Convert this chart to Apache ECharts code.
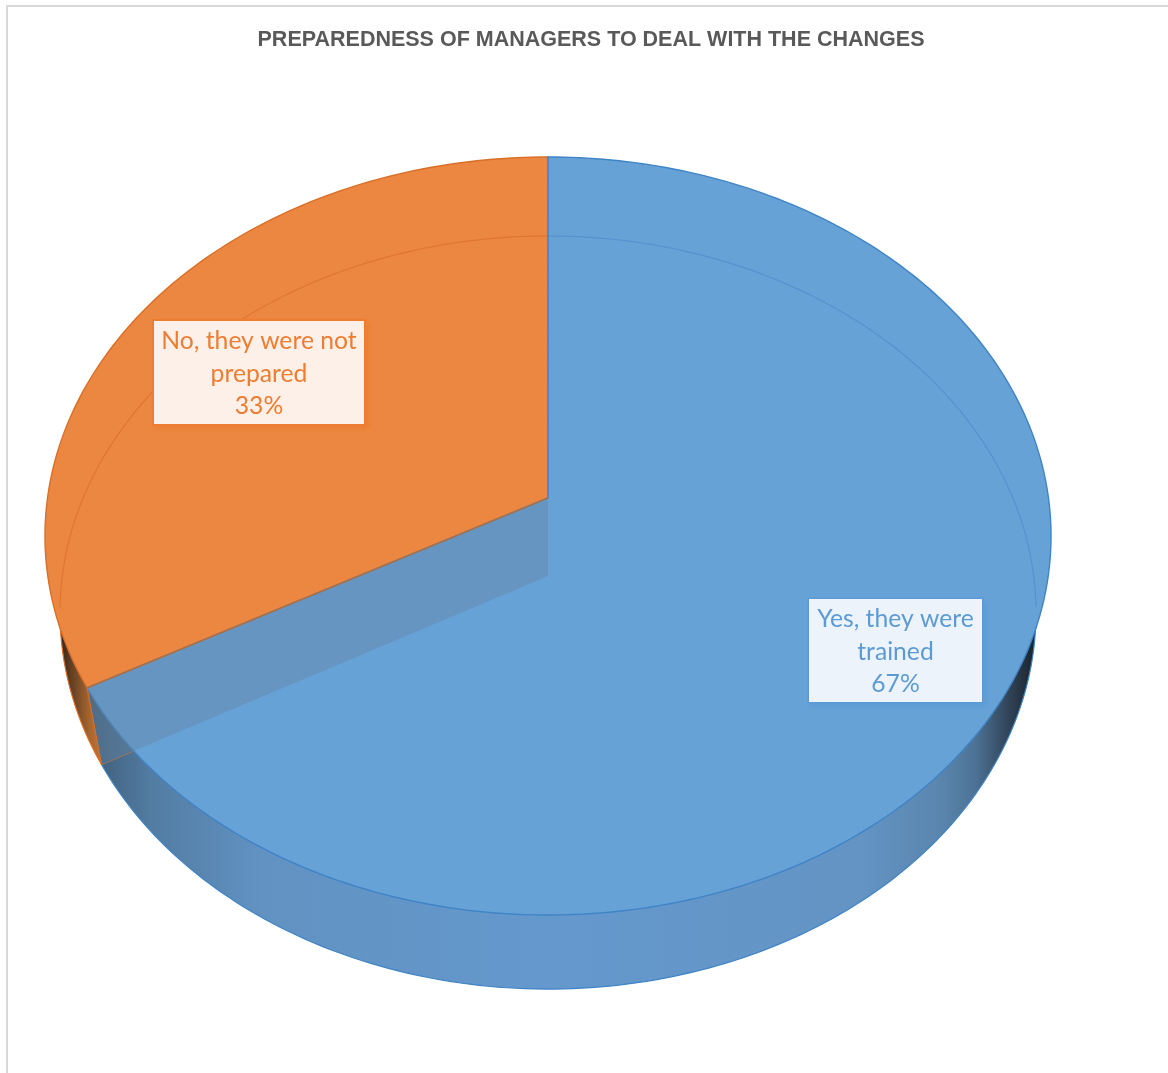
<!DOCTYPE html>
<html>
<head>
<meta charset="utf-8">
<style>html,body{margin:0;padding:0;background:#fff}#chart{width:1168px;height:1073px}</style>
<script src="https://cdn.jsdelivr.net/npm/echarts@6/dist/echarts.min.js"></script>
</head>
<body>
<div id="chart"></div>
<script>
// Survey results
const titleText = 'PREPAREDNESS OF MANAGERS TO DEAL WITH THE CHANGES';
const categories = ['Yes, they were trained', 'No, they were not prepared'];
const shares = [67, 33];

// Slice styling, same order as the categories
const faceColors = ['#67a2d7', '#ec8741'];
const rimColors = ['#3f84c6', '#d96f27'];
const guideColors = ['rgba(62,128,196,0.45)', 'rgba(214,104,34,0.55)'];
const labelFills = ['#edf3fa', '#fcf0e8'];
const labelInk = ['#5b9bd5', '#ed7d31'];
const labelBoxes = [[809, 599, 173, 103], [154, 321, 210, 103]];
const labelBorders = [1.5, 2];

// Perspective view of the disc: the far edge is foreshortened
const topPlane = { cx: 548, cy: 498, a: 375.2, b: 500.5, k: 0.1003 };
const basePlane = { cx: 548, cy: 576, a: 373, b: 485.7, k: 0.097 };

function project(plane, deg) {
  const t = deg * Math.PI / 180;
  const u = Math.sin(t), v = Math.cos(t), w = 1 + plane.k * v;
  return [plane.cx + plane.b * u / w, plane.cy - plane.a * v / w];
}
function arc(plane, from, to) {
  const pts = [], n = Math.max(2, Math.ceil(Math.abs(to - from)));
  for (let i = 0; i <= n; i++) pts.push(project(plane, from + (to - from) * i / n));
  return pts;
}
const total = shares.reduce((s, v) => s + v, 0);
function sliceRange(i) {
  let start = 0;
  for (let j = 0; j < i; j++) start += shares[j];
  return [start / total * 360, (start + shares[i]) / total * 360];
}
function hGradient(stops) {
  return new echarts.graphic.LinearGradient(0, 0, 1168, 0,
    stops.map(s => ({ offset: s[0] / 1168, color: s[1] })), true);
}

const wallFills = [
  hGradient([[90, '#3f5d77'], [150, '#527ca2'], [260, '#6192c2'], [550, '#6598cd'], [860, '#6394c4'], [940, '#5a86ae'], [975, '#4d7396'], [1005, '#34495e'], [1032, '#1c2630']]),
  hGradient([[56, '#1e1712'], [70, '#5d3d24'], [90, '#a8662f'], [108, '#d27a36']])
];

// Corners of the wedge's cut face, on both discs
function cutFace() {
  const end = sliceRange(0)[1];
  return [[topPlane.cx, topPlane.cy], project(topPlane, end),
          project(basePlane, end), [basePlane.cx, basePlane.cy]];
}

// Lower disc: its rim shows below the top face as the outer wall
function renderWall(params) {
  const i = params.dataIndex, r = sliceRange(i);
  const sector = [[basePlane.cx, basePlane.cy]].concat(arc(basePlane, r[0], r[1]));
  const children = [
    { type: 'polygon', z2: 1, shape: { points: sector },
      style: { fill: wallFills[i], stroke: rimColors[i], lineWidth: 1.2 } }
  ];
  // Backing of the cut face, painted over the neighbouring slice's wall
  if (i === 0) children.push({ type: 'polygon', z2: 2, shape: { points: cutFace() },
                               style: { fill: wallFills[0] } });
  return { type: 'group', children };
}
function renderFace(params) {
  const i = params.dataIndex, r = sliceRange(i);
  const sector = [[topPlane.cx, topPlane.cy]].concat(arc(topPlane, r[0], r[1]));
  return {
    type: 'polygon', z2: i === 0 ? 2 : 1, shape: { points: sector },
    style: { fill: faceColors[i], stroke: rimColors[i], lineWidth: 1.4 }
  };
}
// Translucent cut face of the wedge, seen through the blue top
function renderCut(params) {
  if (params.dataIndex !== 0) return { type: 'group', children: [] };
  const q = cutFace();
  return {
    type: 'group',
    children: [
      { type: 'polygon', shape: { points: q },
        style: { fill: 'rgba(100,132,160,0.42)' } },
      { type: 'polyline', shape: { points: [q[1], q[2]] },
        style: { fill: null, stroke: rimColors[1], lineWidth: 1.2 } },
      { type: 'polyline', shape: { points: [q[0], q[1]] },
        style: { fill: null, stroke: '#c06c2e', lineWidth: 1.3 } }
    ]
  };
}
// Far edge of the lower disc, faintly visible through the top face
function renderGuide(params) {
  const i = params.dataIndex, r = sliceRange(i);
  return {
    type: 'polyline',
    shape: { points: arc(basePlane, r[0], r[1]).filter(p => p[1] < 612) },
    style: { fill: null, stroke: guideColors[i], lineWidth: 1.2 }
  };
}
function renderLabel(params) {
  const i = params.dataIndex, box = labelBoxes[i], b = labelBorders[i];
  // The category name keeps its last word on a line of its own
  const name = categories[i].replace(/ (\S+)$/, '\n$1');
  return {
    type: 'group',
    children: [
      { type: 'rect', z2: 1,
        shape: { x: box[0] - b, y: box[1] - b, width: box[2] + 2 * b, height: box[3] + 2 * b },
        style: { fill: labelInk[i], shadowBlur: 6, shadowOffsetX: 3, shadowOffsetY: 3, shadowColor: labelInk[i] } },
      { type: 'rect', z2: 2,
        shape: { x: box[0], y: box[1], width: box[2], height: box[3] },
        style: { fill: labelFills[i] } },
      { type: 'text', z2: 3,
        style: { x: box[0] + box[2] / 2, y: box[1] + box[3] / 2 + 1.5,
                 text: name + '\n' + shares[i] + '%',
                 lineHeight: 32.5, align: 'center', verticalAlign: 'middle',
                 font: '24.7px Lato', fill: labelInk[i] } }
    ]
  };
}

function layer(name, z, renderItem) {
  return { name, type: 'custom', coordinateSystem: 'none', z, silent: true,
           data: shares.map(v => [v]), renderItem, animation: false, clip: false };
}

const chart = echarts.init(document.getElementById('chart'), null, { renderer: 'canvas' });
chart.setOption({
  animation: false,
  backgroundColor: '#ffffff',
  title: {
    text: titleText, left: 586, top: 24, textAlign: 'center',
    textStyle: { fontFamily: 'Liberation Sans', fontSize: 21.5, fontWeight: 'bold', color: '#595959' }
  },
  graphic: [
    { type: 'polyline', shape: { points: [[7, 1073], [7, 6], [1168, 6]] },
      style: { fill: null, stroke: '#d9d9d9', lineWidth: 2 }, silent: true }
  ],
  series: [
    layer('wall', 2, renderWall),
    layer('face', 3, renderFace),
    layer('cut', 4, renderCut),
    layer('guide', 5, renderGuide),
    layer('labels', 6, renderLabel)
  ]
});
</script>
</body>
</html>
